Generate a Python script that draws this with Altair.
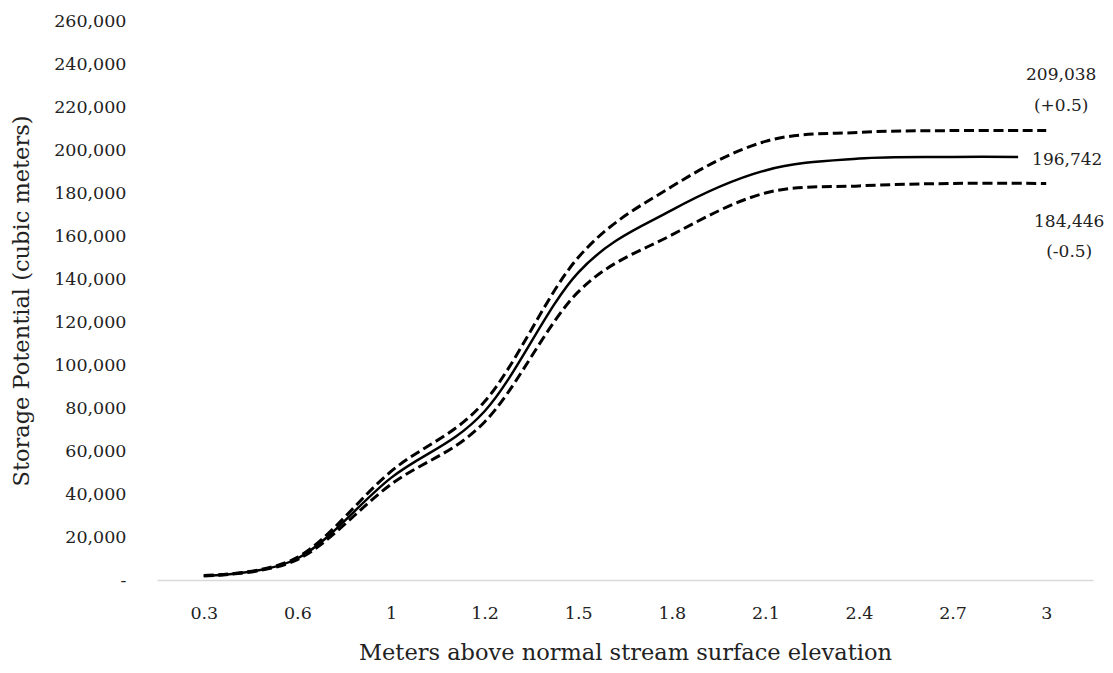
import altair as alt
import pandas as pd

# Category labels on the x axis (meters above normal stream surface elevation)
x_labels = ["0.3", "0.6", "1", "1.2", "1.5", "1.8", "2.1", "2.4", "2.7", "3"]
x_pos = list(range(len(x_labels)))

# Storage potential (cubic meters)
upper_vals = [2100, 10500, 50500, 83000, 150000, 183000, 204000, 208200, 209038, 209038]
lower_vals = [1900, 9500, 44500, 73500, 134000, 160500, 180000, 183300, 184446, 184446]
solid_pos = [0, 1, 2, 3, 4, 5, 6, 7, 8, 8.7]
solid_vals = [2000, 10000, 47500, 78500, 143000, 172000, 190500, 196000, 196742, 196742]

FONT = "DejaVu Serif"
LBL = 17.5
DLBL = 17
TTL = 22.5
TXT = "#222222"

df_up = pd.DataFrame({"pos": x_pos, "value": upper_vals})
df_lo = pd.DataFrame({"pos": x_pos, "value": lower_vals})
df_mid = pd.DataFrame({"pos": solid_pos, "value": solid_vals})

label_expr = "[" + ",".join("'%s'" % s for s in x_labels) + "][datum.value]"

x_enc = alt.X(
    "pos:Q",
    scale=alt.Scale(domain=[-0.5, len(x_labels) - 0.5], nice=False, zero=False),
    axis=alt.Axis(
        values=x_pos,
        labelExpr=label_expr,
        title="Meters above normal stream surface elevation",
        grid=False,
        ticks=False,
        domainColor="#d9d9d9",
        domainWidth=1.3,
        labelPadding=24,
        labelFont=FONT,
        labelFontSize=LBL,
        labelColor=TXT,
        titleFont=FONT,
        titleFontSize=TTL,
        titleFontWeight="normal",
        titleColor=TXT,
        titleBaseline="alphabetic",
        titleY=79,
    ),
)
y_enc = alt.Y(
    "value:Q",
    scale=alt.Scale(domain=[0, 260000], nice=False),
    axis=alt.Axis(
        values=list(range(0, 260001, 20000)),
        labelExpr="datum.value == 0 ? '-\u00a0\u00a0\u00a0' : format(datum.value, ',')",
        title="Storage Potential (cubic meters)",
        grid=False,
        ticks=False,
        domain=False,
        labelPadding=31,
        titlePadding=20,
        labelFont=FONT,
        labelFontSize=LBL,
        labelColor=TXT,
        titleFont=FONT,
        titleFontSize=TTL,
        titleFontWeight="normal",
        titleColor=TXT,
    ),
)

dash_style = dict(interpolate="cardinal", color="black", strokeWidth=3, strokeDash=[10, 4.6])

up = alt.Chart(df_up).mark_line(**dash_style).encode(x=x_enc, y=y_enc)
lo = alt.Chart(df_lo).mark_line(**dash_style).encode(x="pos:Q", y="value:Q")
mid = alt.Chart(df_mid).mark_line(
    interpolate="cardinal", color="black", strokeWidth=2.5
).encode(x="pos:Q", y="value:Q")

# End labels, anchored to the last data points
lab_up = pd.DataFrame({"pos": [x_pos[-1]], "value": [upper_vals[-1]],
                       "txt": [["209,038", "(+0.5)"]]})
lab_lo = pd.DataFrame({"pos": [x_pos[-1]], "value": [lower_vals[-1]],
                       "txt": [["184,446", "(-0.5)"]]})
lab_mid = pd.DataFrame({"pos": [solid_pos[-1]], "value": [solid_vals[-1]],
                        "txt": ["196,742"]})

t_up = alt.Chart(lab_up).mark_text(
    font=FONT, fontSize=DLBL, color=TXT, align="center", baseline="middle",
    dx=15, dy=-56, lineHeight=31.5
).encode(x="pos:Q", y="value:Q", text="txt")
t_lo = alt.Chart(lab_lo).mark_text(
    font=FONT, fontSize=DLBL, color=TXT, align="center", baseline="middle",
    dx=23, dy=39, lineHeight=30
).encode(x="pos:Q", y="value:Q", text="txt")
t_mid = alt.Chart(lab_mid).mark_text(
    font=FONT, fontSize=DLBL, color=TXT, align="left", baseline="middle",
    dx=14, dy=3
).encode(x="pos:Q", y="value:Q", text="txt:N")

chart = (
    alt.layer(up, lo, mid, t_up, t_lo, t_mid)
    .properties(
        width=936,
        height=559,
        background="white",
        autosize=alt.AutoSizeParams(type="none"),
        padding={"left": 149, "top": 13, "right": 12, "bottom": 85},
    )
    .configure_view(strokeWidth=0, stroke="transparent")
)

chart.save("out.html", embed_options={"renderer": "svg", "actions": False})
